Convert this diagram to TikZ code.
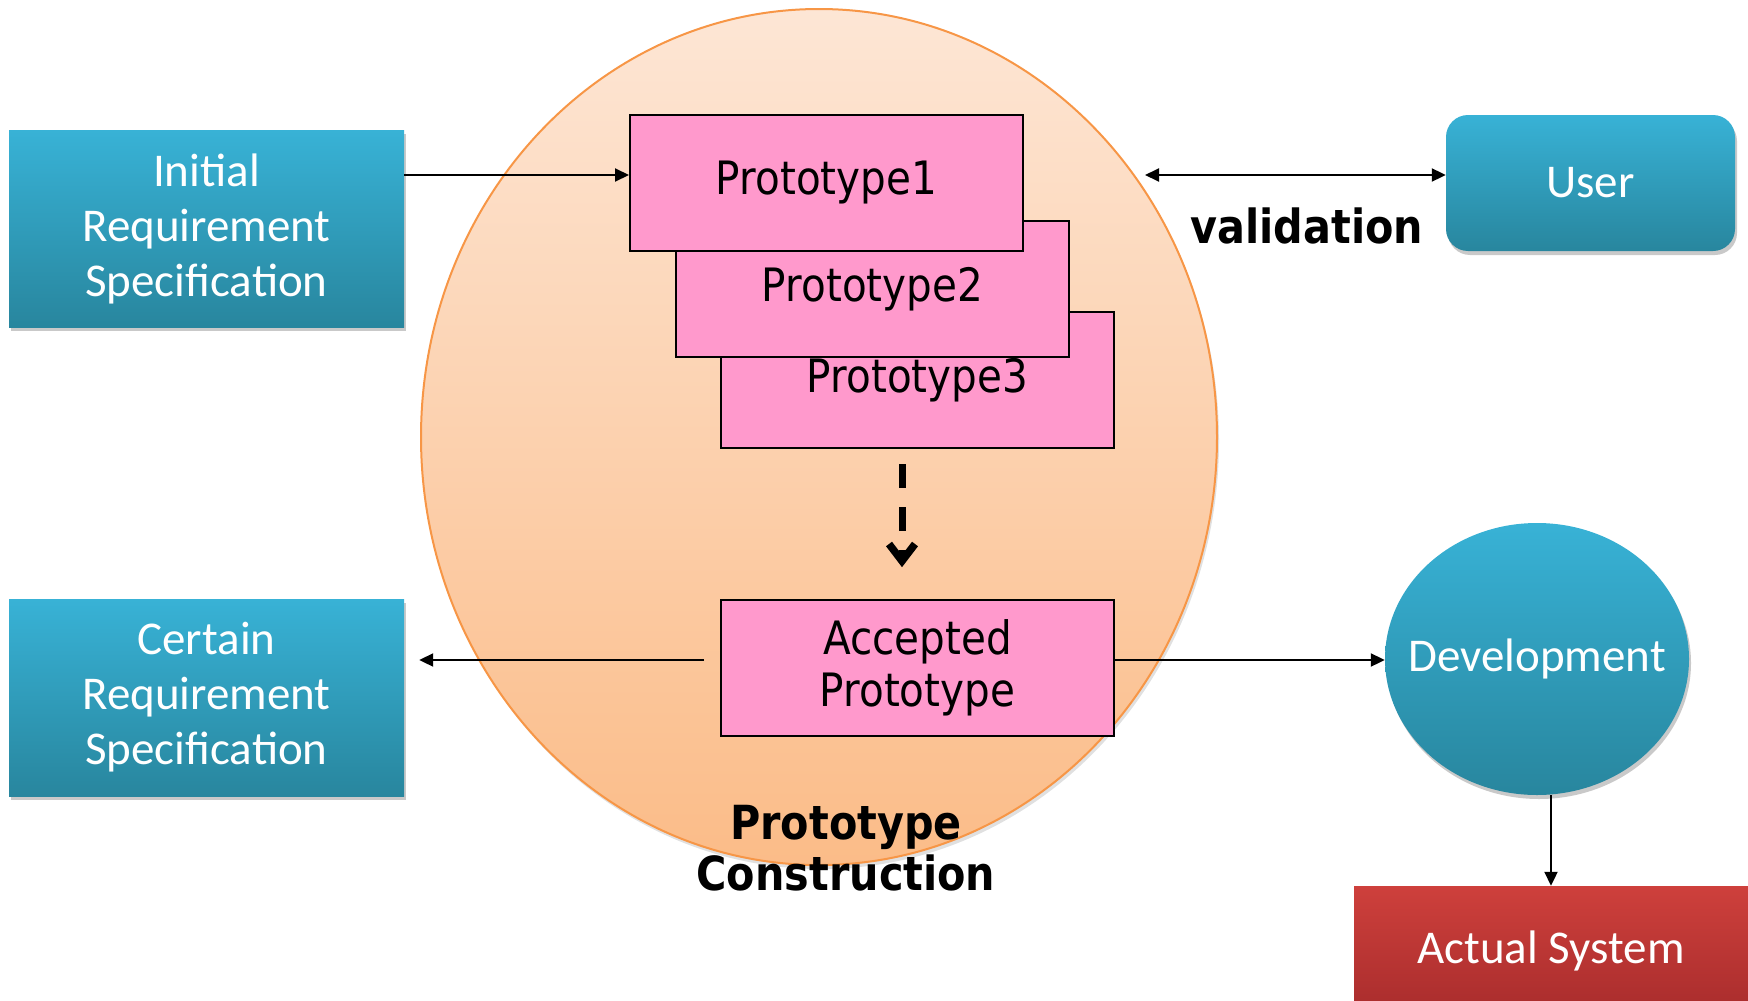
\documentclass[tikz,border=0pt]{standalone}
\usepackage{fontspec}
\setmainfont{Carlito}
\newfontfamily\tah[FakeStretch=0.88]{DejaVu Sans}
\usetikzlibrary{shapes.geometric,arrows.meta,shadows}
\definecolor{tealtop}{RGB}{56,178,214}
\definecolor{tealbot}{RGB}{40,134,158}
\definecolor{pinkfill}{RGB}{255,153,204}
\definecolor{elltop}{RGB}{253,230,213}
\definecolor{ellbot}{RGB}{251,188,136}
\definecolor{ellline}{RGB}{247,150,70}
\definecolor{redtop}{RGB}{206,64,60}
\definecolor{redbot}{RGB}{168,44,44}
\begin{document}
\begin{tikzpicture}[x=1pt,y=-1pt,
  shad/.style={drop shadow={shadow xshift=2pt,shadow yshift=-4pt,opacity=0.3,fill=black!70}},
  tealbox/.style={shad,rectangle,top color=tealtop,bottom color=tealbot,draw=none,
    text=white,align=center,inner sep=0pt,font=\fontsize{47}{55}\selectfont},
  protobox/.style={rectangle,fill=pinkfill,draw=black,line width=2pt,inner sep=0pt,
    minimum width=393pt,minimum height=136pt,align=center,
    font=\tah\fontsize{46}{52}\selectfont},
  arr/.style={line width=2pt,-{Triangle[length=14pt,width=13pt]}},
  darr/.style={line width=2pt,{Triangle[length=14pt,width=13pt]}-{Triangle[length=14pt,width=13pt]}},
  dashline/.style={line width=7pt,dash pattern=on 24pt off 19pt},
  chev/.style={line width=7.5pt,line join=miter,line cap=butt},
  boldlbl/.style={font=\tah\bfseries\fontsize{47}{51}\selectfont,align=center,inner sep=0pt}
]
\useasboundingbox (0,0) rectangle (1748,1001);

% big ellipse
\node (pc) [ellipse,draw=ellline,line width=2pt,top color=elltop,bottom color=ellbot,
  minimum width=796pt,minimum height=856pt,inner sep=0pt,
  drop shadow={shadow xshift=2pt,shadow yshift=-4pt,opacity=0.12,fill=black}] at (819,437) {};

% left boxes
\node (init) [tealbox,minimum width=395pt,minimum height=197pt] at (206.5,228.5)
  {Initial\\Requirement\\Specification};
\node (cert) [tealbox,minimum width=395pt,minimum height=197pt] at (206.5,697.5)
  {Certain\\Requirement\\Specification};

% right side
\node (user) [tealbox,rounded corners=22pt,minimum width=289pt,minimum height=136pt] at (1590.5,183) {User};
\node (dev) [tealbox,ellipse,minimum width=304pt,minimum height=272pt] at (1537,659) {\makebox[0pt]{Development}};
\node (actual) [shad,rectangle,top color=redtop,bottom color=redbot,text=white,inner sep=0pt,
  minimum width=394pt,minimum height=130pt,font=\fontsize{47}{55}\selectfont] at (1551,951) {Actual System};

% prototypes
\node (p3) [protobox] at (917.5,380) {Prototype3};
\node (p2) [protobox] at (872.5,289) {Prototype2};
\node (p1) [protobox] at (826.5,183) {Prototype1};
\node (acc) [protobox] at (917.5,668) {Accepted\\Prototype};

% labels
\node (val) [boldlbl] at (1307,226) {validation};
\node (pclbl) [boldlbl] at (846,848) {Prototype\\Construction};

% connectors
\coordinate (a1) at ([yshift=8pt]p1.west);
\draw[arr] (init.east |- a1) -- (a1);
\coordinate (valL) at (1145,175);
\draw[darr] (valL) -- (user.west |- valL);
\coordinate (dtop) at ([xshift=-15.5pt,yshift=-15pt]p3.south);
\coordinate (dtip) at ([xshift=-15.5pt,yshift=38pt]acc.north);
\draw[dashline] (dtop) -- (dtip);
\draw[chev] ([shift={(-13,-17)}]dtip) -- (dtip) -- ([shift={(13,-17)}]dtip);
\coordinate (a2) at ([yshift=8pt]acc.west);
\coordinate (a3) at ([yshift=8pt]acc.east);
\draw[arr,shorten <=16pt,shorten >=15pt] (a2) -- (cert.east |- a2);
\draw[arr] (a3) -- (dev.west |- a3);
\draw[arr] (dev.south -| actual.north) -- (actual.north);
\end{tikzpicture}
\end{document}
